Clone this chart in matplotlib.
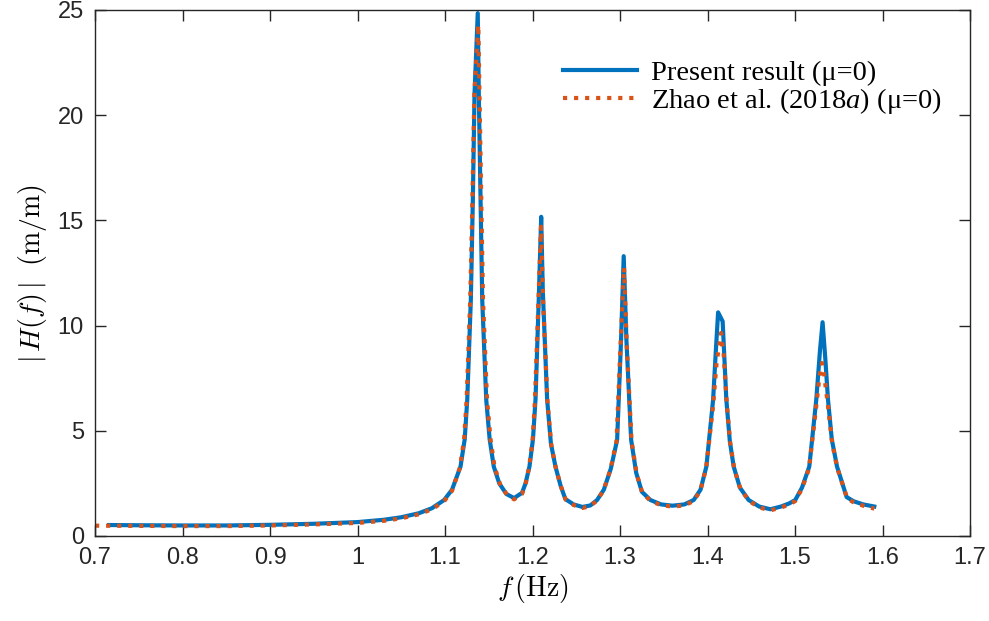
import numpy as np
import matplotlib.pyplot as plt
from matplotlib.font_manager import FontProperties

# |H(f)|
f_present = [0.716, 0.75, 0.80, 0.85, 0.90, 0.95, 1.00, 1.03, 1.05, 1.07, 1.085, 1.099,
             1.108, 1.1177, 1.1225, 1.1254, 1.1295, 1.1318, 1.1337, 1.1374, 1.1386, 1.1406,
             1.1425, 1.1471, 1.151, 1.1557, 1.162, 1.170, 1.1789,
             1.188, 1.192, 1.1965, 1.2005, 1.2034, 1.2071, 1.2099, 1.2117, 1.2167, 1.221,
             1.2262, 1.232, 1.2376, 1.247, 1.257,
             1.266, 1.2738, 1.2815, 1.2895, 1.2967, 1.3012, 1.3042, 1.3073, 1.3127, 1.3185,
             1.325, 1.3347, 1.347, 1.36,
             1.3735, 1.3842, 1.392, 1.3987, 1.4064, 1.4095, 1.4121, 1.4173, 1.4215, 1.4255,
             1.4299, 1.437, 1.447, 1.459, 1.4718,
             1.484, 1.4935, 1.5003, 1.508, 1.5163, 1.5243, 1.5285, 1.5315, 1.5345, 1.5377,
             1.542, 1.548, 1.559, 1.567, 1.578, 1.5906]
h_present = [0.52, 0.51, 0.50, 0.50, 0.53, 0.58, 0.66, 0.77, 0.89, 1.08, 1.32, 1.71,
             2.2, 3.3, 4.6, 6.48, 11.24, 16.0, 21.0, 24.85, 21.0, 16.0,
             11.24, 6.48, 4.6, 3.3, 2.5, 2.0, 1.80,
             2.05, 2.5, 3.3, 4.6, 6.48, 11.24, 15.17, 11.7, 6.48, 4.4,
             3.3, 2.4, 1.75, 1.5, 1.38,
             1.45, 1.71, 2.2, 3.2, 4.57, 9.33, 13.3, 9.33, 4.57, 3.0,
             2.1, 1.71, 1.5, 1.44,
             1.5, 1.71, 2.2, 3.3, 6.48, 8.8, 10.63, 10.2, 6.48, 4.5,
             3.3, 2.3, 1.71, 1.4, 1.27,
             1.4, 1.55, 1.71, 2.3, 3.3, 6.48, 8.8, 10.16, 8.5, 6.48,
             4.6, 3.3, 1.85, 1.65, 1.5, 1.40]

f_zhao = [0.70, 0.75, 0.80, 0.85, 0.90, 0.95, 1.00, 1.03, 1.05, 1.07, 1.085, 1.099,
          1.108, 1.117, 1.1218, 1.1247, 1.1288, 1.1313, 1.1335, 1.138, 1.1394, 1.1414,
          1.1434, 1.148, 1.152, 1.1565, 1.163, 1.171, 1.1789,
          1.188, 1.192, 1.196, 1.200, 1.2028, 1.2066, 1.2097, 1.2122, 1.2172, 1.2215,
          1.2268, 1.2325, 1.238, 1.247, 1.257,
          1.266, 1.2735, 1.281, 1.289, 1.296, 1.3005, 1.3046, 1.3078, 1.3132, 1.319,
          1.3255, 1.335, 1.347, 1.36,
          1.3735, 1.384, 1.3918, 1.3985, 1.4064, 1.4105, 1.4155, 1.4185, 1.4222, 1.426,
          1.4305, 1.4375, 1.4475, 1.4595, 1.4718,
          1.484, 1.4935, 1.5003, 1.508, 1.516, 1.5238, 1.528, 1.5308, 1.5335, 1.5382,
          1.5425, 1.5485, 1.5595, 1.5675, 1.578, 1.5906]
h_zhao = [0.49, 0.48, 0.47, 0.47, 0.50, 0.55, 0.62, 0.72, 0.84, 1.03, 1.27, 1.65,
          2.15, 3.25, 4.6, 6.48, 11.24, 16.0, 21.0, 24.29, 21.0, 16.0,
          11.24, 6.48, 4.6, 3.3, 2.45, 1.95, 1.74,
          2.0, 2.45, 3.25, 4.5, 6.48, 11.0, 14.7, 11.0, 6.3, 4.3,
          3.2, 2.35, 1.72, 1.47, 1.33,
          1.42, 1.68, 2.15, 3.15, 4.5, 9.0, 12.75, 9.0, 4.5, 2.95,
          2.05, 1.66, 1.46, 1.40,
          1.45, 1.66, 2.15, 3.25, 6.2, 8.3, 9.65, 8.6, 6.2, 4.4,
          3.2, 2.25, 1.66, 1.35, 1.22,
          1.35, 1.5, 1.66, 2.25, 3.2, 6.0, 7.6, 8.22, 7.6, 6.0,
          4.4, 3.2, 1.8, 1.58, 1.44, 1.30]

fig = plt.figure(figsize=(9.89, 6.21), dpi=100)
ax = fig.add_axes([0.0961, 0.1369, 0.8847, 0.8470])

ax.plot(f_present, h_present, '-', color='#0072BD', lw=3.0,
        label='Present result (\u03bc=0)')
ax.plot(f_zhao, h_zhao, ':', color='#D95319', lw=3.0,
        label='Zhao et al. (2018$a$) (\u03bc=0)')

ax.set_xlim(0.7, 1.7)
ax.set_ylim(0, 25)
ax.set_xticks(np.arange(0.7, 1.71, 0.1))
ax.set_xticklabels(['0.7', '0.8', '0.9', '1', '1.1', '1.2', '1.3', '1.4', '1.5', '1.6', '1.7'])
ax.set_yticks([0, 5, 10, 15, 20, 25])

ax.tick_params(direction='in', length=8, width=1, colors='#262626', labelsize=17,
               top=True, right=True, pad=8)
for lab in ax.get_xticklabels() + ax.get_yticklabels():
    lab.set_family('Liberation Sans')
for s in ax.spines.values():
    s.set_color('#262626')
    s.set_linewidth(1)

ax.set_xlabel(r'$f\,\mathrm{(Hz)}$', fontsize=20, math_fontfamily='cm', labelpad=2)
ax.set_ylabel(r'$|\,H(f)\,|\ \ \mathrm{(m/m)}$', fontsize=20, math_fontfamily='cm', labelpad=6)

plt.rcParams['mathtext.it'] = 'Liberation Serif:italic'
plt.rcParams['mathtext.rm'] = 'Liberation Serif'
leg_font = FontProperties(family='Liberation Serif', size=20.5, math_fontfamily='custom')
ax.legend(loc='upper right', bbox_to_anchor=(0.968, 0.905), frameon=False, prop=leg_font,
          handlelength=2.6, handletextpad=0.5, labelspacing=0.0,
          borderpad=0, borderaxespad=0)

fig.savefig('out.png', dpi=100)
